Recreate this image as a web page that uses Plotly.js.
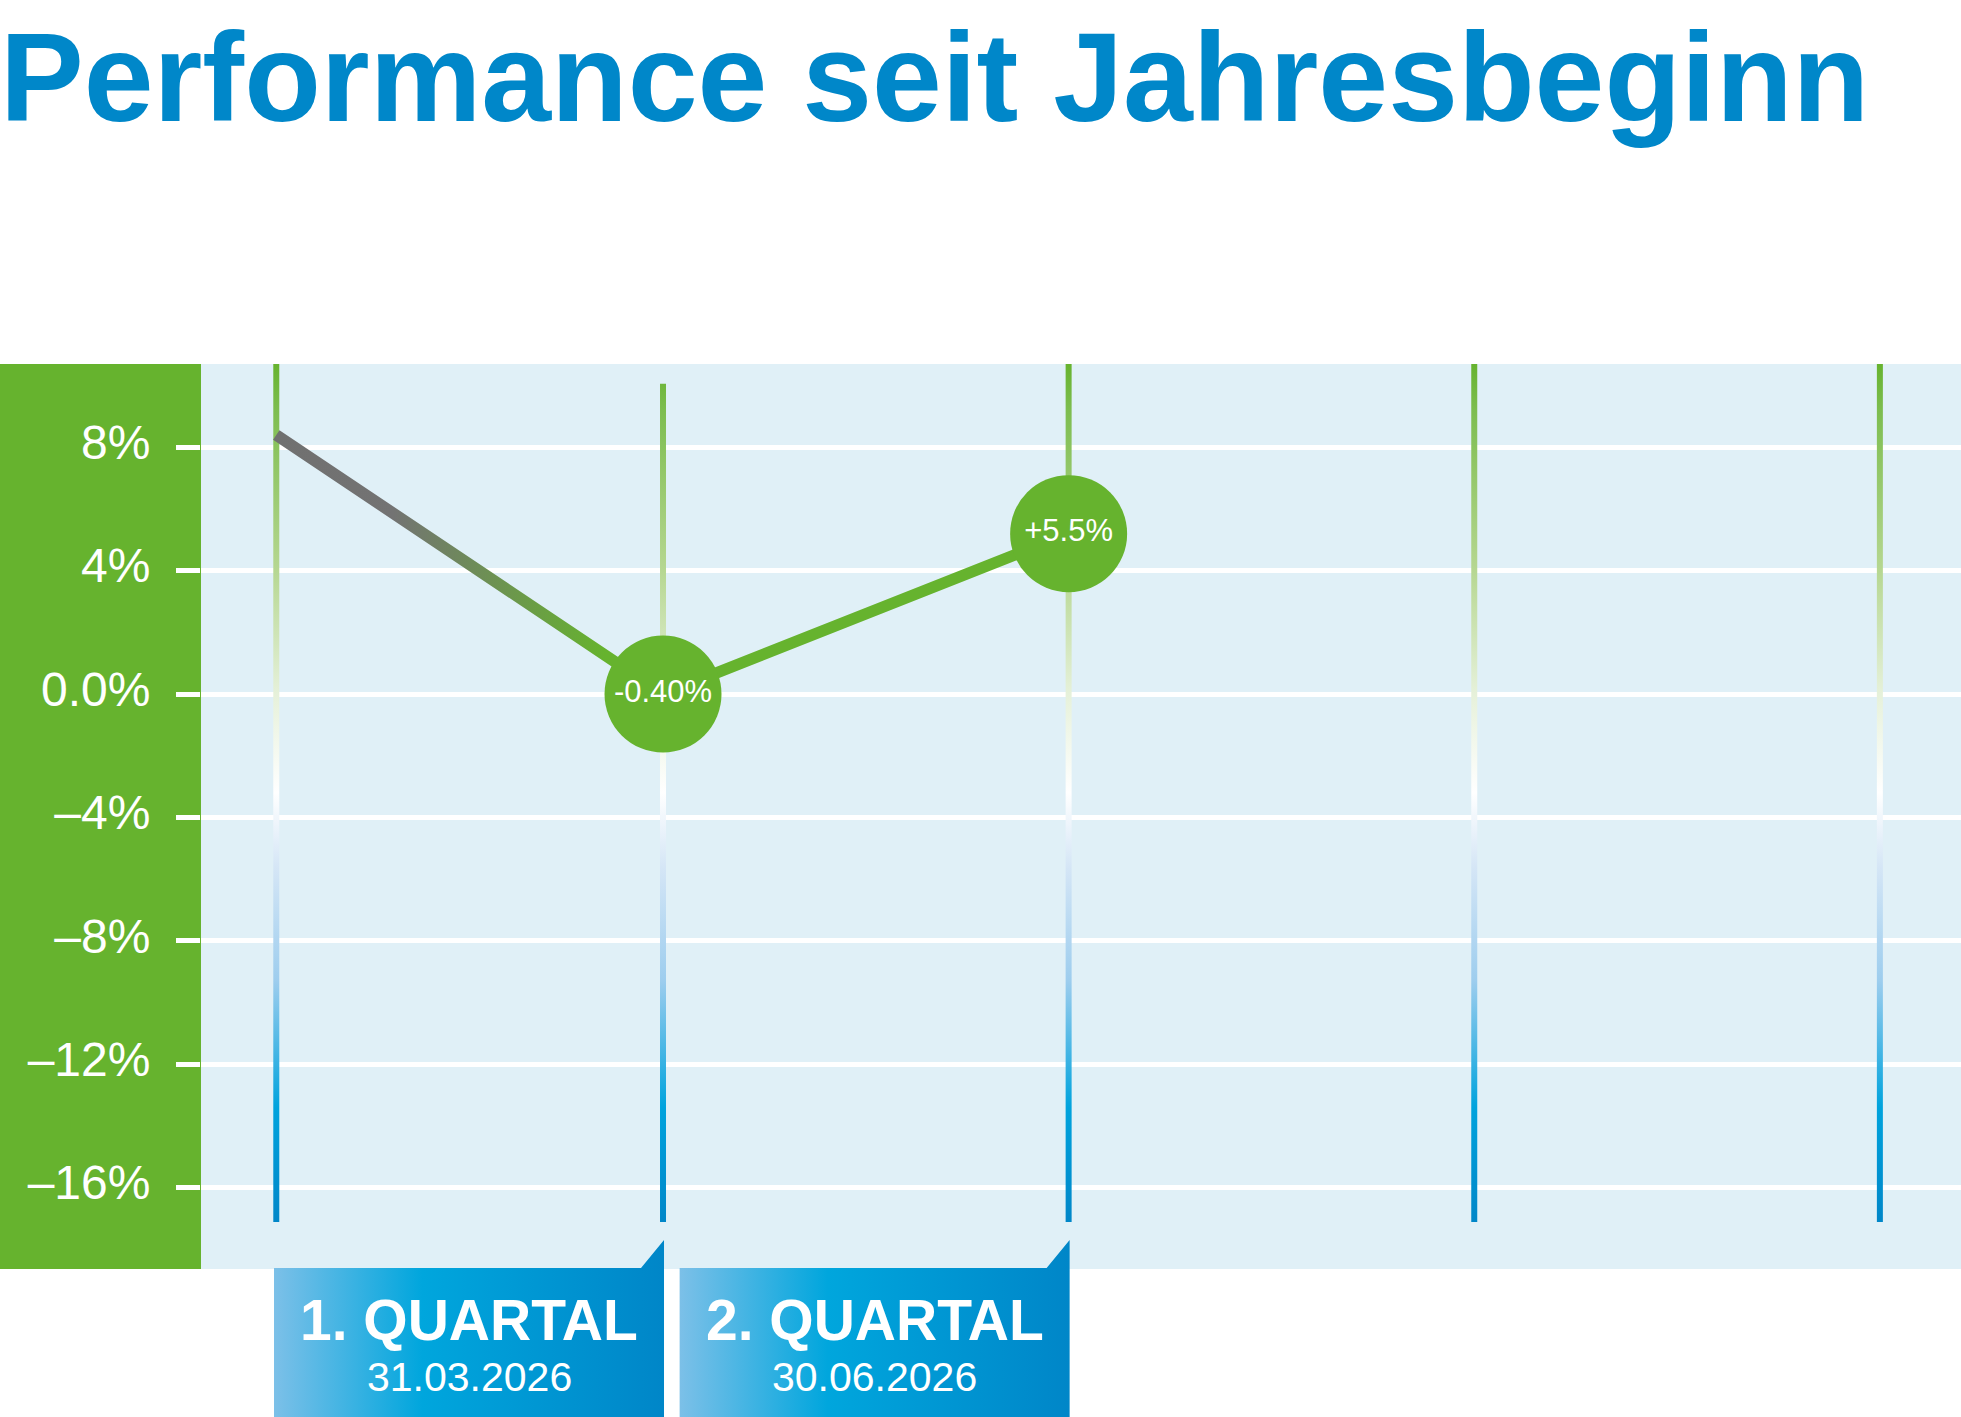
<!DOCTYPE html>
<html><head><meta charset="utf-8">
<script src="https://cdn.plot.ly/plotly-3.0.1.min.js"></script>
<style>html,body{margin:0;padding:0;background:#fff;} #chart{width:1961px;height:1417px;}</style>
</head><body><div id="chart"></div>
<script>
// ---- data ----
const quarterPositions = [0.0466, 1, 2, 3, 4];          // start, Q1, Q2, Q3, Q4 guide positions
const performanceValues = [8.4, 0.0, 5.2];              // plotted line points
const performanceLabels = ["", "-0.40%", "+5.5%"];       // bubble labels
const yTickValues = [8, 4, 0, -4, -8, -12, -16];
const yTickLabels = ["8%", "4%", "0.0%", "–4%", "–8%", "–12%", "–16%"];
const quarterNames = ["1. QUARTAL", "2. QUARTAL"];
const quarterDates = ["31.03.2026", "30.06.2026"];
const titleText = "Performance seit Jahresbeginn";

// ---- layout geometry ----
const W = 1961, H = 1417;
const M = {l: 201, r: 0, t: 364, b: 148};
const plotW = W - M.l - M.r, plotH = H - M.t - M.b;
const xRange = [-0.139, 4.2];
const yRange = [-18.64, 10.70];
const pxPerX = plotW / (xRange[1] - xRange[0]);
const dx = px => px / pxPerX;
const pxToPaperY = px => (H - M.b - px) / plotH;

const FONT = "Liberation Sans, Arial, sans-serif";
const GREEN = "#66b32e";

// vertical guide lines (one per quarter position)
const guideBottom = -17.12;
const guideTops = quarterPositions.map((p, i) => i === 1 ? 10.06 : yRange[1]);
const gx = [], gy = [];
quarterPositions.forEach((p, i) => { gx.push(p, p, null); gy.push(guideTops[i], guideBottom, null); });

const traces = [
  {x: gx, y: gy, mode: "lines", line: {color: GREEN, width: 6}, hoverinfo: "skip", showlegend: false},
  {x: quarterPositions.slice(0, performanceValues.length), y: performanceValues, mode: "lines",
   line: {color: GREEN, width: 11.5}, hoverinfo: "skip", showlegend: false},
  {x: quarterPositions.slice(1, performanceValues.length), y: performanceValues.slice(1),
   mode: "markers+text", marker: {size: 117, color: GREEN, line: {width: 0}},
   text: performanceLabels.slice(1), textposition: "middle center",
   textfont: {family: FONT, size: 31, color: "#ffffff"}, cliponaxis: false,
   hoverinfo: "skip", showlegend: false}
];

const shapes = [
  {type: "rect", xref: "paper", yref: "paper", x0: -M.l / plotW, x1: 0, y0: 0, y1: 1,
   fillcolor: GREEN, line: {width: 0}, layer: "below"}
];
const annotations = [];
quarterNames.forEach((name, i) => {
  const right = quarterPositions[i + 1] + dx(1);
  const left = right - dx(390);
  const tabStart = right - dx(23);
  const top = pxToPaperY(1268), tabTop = pxToPaperY(1240), bottom = pxToPaperY(H);
  shapes.push({type: "path", xref: "x", yref: "paper", layer: "above",
    path: `M ${left},${bottom} L ${left},${top} L ${tabStart},${top} L ${right},${tabTop} L ${right},${bottom} Z`,
    fillcolor: "#0096d6", line: {width: 0}});
  const cx = (left + right) / 2;
  annotations.push({xref: "x", yref: "paper", x: cx, y: pxToPaperY(1320), text: name, showarrow: false,
    xanchor: "center", yanchor: "middle", font: {family: FONT, size: 57, color: "#ffffff", weight: "bold"}});
  annotations.push({xref: "x", yref: "paper", x: cx, y: pxToPaperY(1377), text: quarterDates[i], showarrow: false,
    xanchor: "center", yanchor: "middle", font: {family: FONT, size: 41, color: "#ffffff"}});
});

const layout = {
  width: W, height: H, margin: M,
  paper_bgcolor: "#ffffff", plot_bgcolor: "#e0f0f7",
  showlegend: false, hovermode: false,
  title: {text: titleText, x: 0, xref: "container", xanchor: "left",
          y: 1 - 77 / H, yref: "container", yanchor: "middle",
          font: {family: FONT, size: 125.5, color: "#0087c9", weight: "bold"}},
  xaxis: {range: xRange, showgrid: false, zeroline: false, showticklabels: false, ticks: "", showline: false, fixedrange: true},
  yaxis: {range: yRange, tickvals: yTickValues, ticktext: yTickLabels, showgrid: true, gridcolor: "#ffffff", gridwidth: 5,
          zeroline: false, showline: false, ticks: "outside", ticklen: 24, tickwidth: 5, tickcolor: "#ffffff",
          ticklabelstandoff: 16, ticklabelshift: -5, tickfont: {family: FONT, size: 48, color: "#ffffff"}, fixedrange: true},
  shapes: shapes, annotations: annotations
};

Plotly.newPlot("chart", traces, layout, {displayModeBar: false, staticPlot: true}).then(gd => {
  const fl = gd._fullLayout, xa = fl.xaxis, ya = fl.yaxis;
  const defs = gd.querySelector(".main-svg defs");
  const NS = "http://www.w3.org/2000/svg";
  function grad(id, attrs, stops) {
    const g = document.createElementNS(NS, "linearGradient");
    g.setAttribute("id", id);
    Object.entries(attrs).forEach(([k, v]) => g.setAttribute(k, v));
    stops.forEach(([o, c]) => { const s = document.createElementNS(NS, "stop"); s.setAttribute("offset", o); s.setAttribute("stop-color", c); g.appendChild(s); });
    defs.appendChild(g);
  }
  // vertical guide gradient (green -> white -> blue)
  const y0 = ya.l2p(yRange[1]), y1 = ya.l2p(guideBottom);
  const off = v => ((ya.l2p(v) - y0) / (y1 - y0)).toFixed(4);
  grad("vgrad", {gradientUnits: "userSpaceOnUse", x1: 0, x2: 0, y1: y0, y2: y1},
    [[0, GREEN], [off(9.2), "#7dbd4f"], [off(4), "#b6d791"], [off(0), "#e6f1da"], [off(-3.2), "#ffffff"],
     [off(-5.6), "#d5e6f6"], [off(-9.3), "#9dcdee"], [off(-13.4), "#00a3dd"], [1, "#0086c8"]]);
  // performance line gradient (grey -> green along first segment)
  grad("lgrad", {gradientUnits: "userSpaceOnUse", y1: 0, y2: 0, x1: xa.l2p(quarterPositions[0]), x2: xa.l2p(quarterPositions[1])},
    [[0, "#707070"], [0.3, "#737373"], [0.85, GREEN], [1, GREEN]]);
  // label box gradient
  grad("bgrad", {x1: 0, x2: 1, y1: 0, y2: 0},
    [[0, "#7cc0e8"], [0.38, "#00a6dd"], [1, "#0086c8"]]);

  const tr = gd.querySelectorAll(".scatterlayer .trace");
  tr[0].querySelectorAll("path.js-line").forEach(p => { p.style.stroke = "url(#vgrad)"; });
  tr[1].querySelectorAll("path.js-line").forEach(p => { p.style.stroke = "url(#lgrad)"; });
  gd.querySelectorAll(".layer-above .shapelayer path").forEach(p => { p.style.fill = "url(#bgrad)"; });
});
</script>
</body></html>
